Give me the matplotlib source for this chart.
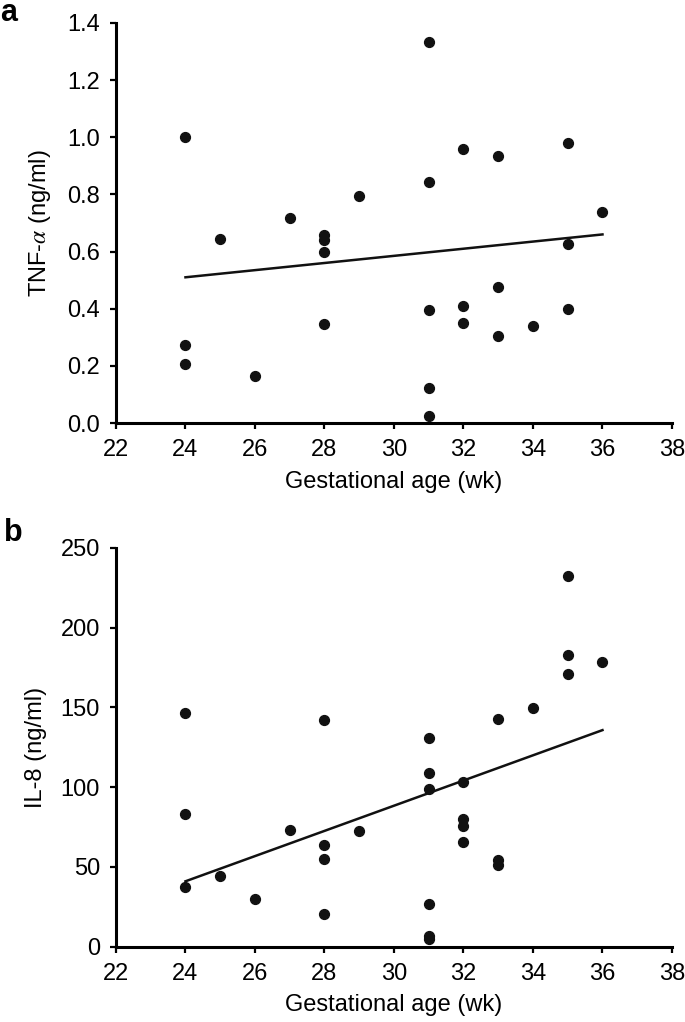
import matplotlib
matplotlib.use('Agg')
import matplotlib.pyplot as plt

plt.rcParams['font.family'] = ['Liberation Sans', 'DejaVu Sans']
plt.rcParams['mathtext.fontset'] = 'stix'

# Panel a: TNF-alpha vs gestational age
tnf_age = [24, 24, 24, 25, 26, 27, 28, 28, 28, 28, 29,
           31, 31, 31, 31, 31, 32, 32, 32, 33, 33, 33, 34, 35, 35, 35, 36]
tnf_val = [1.00, 0.272, 0.208, 0.644, 0.163, 0.719, 0.657, 0.639, 0.597, 0.345, 0.793,
           1.333, 0.844, 0.394, 0.124, 0.023, 0.958, 0.411, 0.351, 0.936, 0.476, 0.303,
           0.338, 0.981, 0.627, 0.399, 0.739]
tnf_fit_x = [24, 36]
tnf_fit_y = [0.510, 0.660]

# Panel b: IL-8 vs gestational age
il8_age = [24, 24, 24, 25, 26, 27, 28, 28, 28, 28, 29,
           31, 31, 31, 31, 31, 31, 32, 32, 32, 32, 33, 33, 33, 34, 35, 35, 35, 36]
il8_val = [146.6, 83.0, 37.5, 44.2, 29.7, 73.3, 142.0, 64.0, 55.2, 20.7, 72.6,
           130.8, 108.6, 99.1, 26.9, 6.5, 4.7, 103.4, 80.2, 75.4, 65.7,
           142.9, 54.3, 51.1, 149.4, 232.5, 182.8, 171.3, 178.4]
il8_fit_x = [24, 36]
il8_fit_y = [41.0, 135.8]

xticks = list(range(22, 39, 2))


def style_axis(ax):
    for side in ('top', 'right'):
        ax.spines[side].set_visible(False)
    for side in ('left', 'bottom'):
        ax.spines[side].set_linewidth(2.2)
    ax.tick_params(direction='out', length=4.5, width=1.6, labelsize=17, pad=7)
    ax.set_xlim(22, 38)
    ax.set_xticks(xticks)
    ax.set_xlabel('Gestational age (wk)', fontsize=17, labelpad=7)


fig = plt.figure(figsize=(6.85, 10.22), dpi=100)
ax1 = fig.add_axes([0.1693, 0.5861, 0.8117, 0.3914])
ax2 = fig.add_axes([0.1693, 0.0737, 0.8117, 0.3901])

ax1.scatter(tnf_age, tnf_val, s=50, color='#111111', zorder=3, clip_on=False)
ax1.plot(tnf_fit_x, tnf_fit_y, color='#111111', lw=1.8)
style_axis(ax1)
ax1.set_ylim(0, 1.4)
ax1.set_yticks([0.0, 0.2, 0.4, 0.6, 0.8, 1.0, 1.2, 1.4])
ax1.set_yticklabels([f'{v:.1f}' for v in ax1.get_yticks()])
ax1.set_ylabel(r'TNF-$\alpha$ (ng/ml)', fontsize=17, labelpad=10)

ax2.scatter(il8_age, il8_val, s=50, color='#111111', zorder=3, clip_on=False)
ax2.plot(il8_fit_x, il8_fit_y, color='#111111', lw=1.8)
style_axis(ax2)
ax2.set_ylim(0, 250)
ax2.set_yticks(range(0, 251, 50))
ax2.set_ylabel('IL-8 (ng/ml)', fontsize=17, labelpad=10)

fig.text(0.0, 0.987, 'a', fontsize=22, fontweight='bold', va='center', ha='left')
fig.text(0.006, 0.478, 'b', fontsize=22, fontweight='bold', va='center', ha='left')

fig.savefig('out.png', dpi=100)
